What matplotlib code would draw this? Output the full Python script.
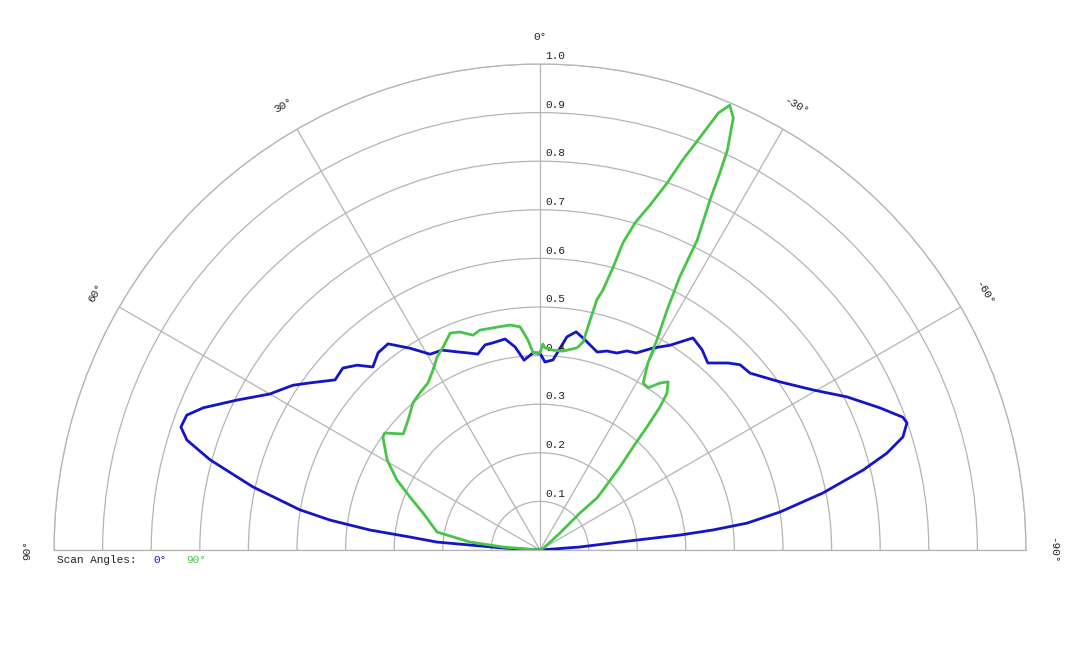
import numpy as np
import matplotlib
matplotlib.use("Agg")
import matplotlib.pyplot as plt

# scan at 0 deg (blue), angle in degrees, relative intensity
blue_deg = [90, 86.9, 85.6, 84.3, 83.3, 81.9, 80.5, 77.6, 74.7, 72.7, 71.1, 69.1,
            67.1, 63.7, 60.0, 58.4, 56.3, 54.0, 50.3, 47.3, 44.7, 42.4, 39.4, 36.4,
            32.8, 29.3, 26.1, 22.7, 19.6, 17.6, 15.0, 13.1, 9.4, 7.0, 4.8, 2.0, 0.0,
            -1.5, -3.9, -7.2, -9.4, -11.5, -16.1, -18.6, -21.3, -23.6, -26.0, -29.2,
            -32.4, -35.8, -39.0, -41.9, -45.2, -47.2, -49.9, -55.0, -59.6, -63.5,
            -67.3, -69.9, -70.9, -72.7, -74.4, -76.1, -78.6, -81.0, -82.6, -83.4,
            -83.9, -84.3, -85.7, -90]
blue_r = [0, 0.076, 0.213, 0.269, 0.352, 0.436, 0.501, 0.605, 0.704, 0.761, 0.781, 0.778,
          0.752, 0.696, 0.642, 0.628, 0.611, 0.585, 0.548, 0.552, 0.535, 0.510, 0.525, 0.527,
          0.494, 0.462, 0.458, 0.442, 0.430, 0.423, 0.437, 0.437, 0.440, 0.421, 0.392, 0.406, 0.405,
          0.387, 0.392, 0.442, 0.455, 0.445, 0.424, 0.432, 0.435, 0.447, 0.451, 0.476,
          0.499, 0.538, 0.530, 0.517, 0.546, 0.561, 0.565, 0.603, 0.651, 0.706,
          0.758, 0.795, 0.799, 0.782, 0.741, 0.685, 0.594, 0.500, 0.430, 0.358,
          0.290, 0.166, 0.082, 0]

# scan at 90 deg (green)
green_deg = [90, 85.4, 83.5, 80.1, 72.5, 67.8, 63.9, 59.5, 54.3, 53.0, 49.7, 45.4,
             40.8, 37.4, 33.8, 30.7, 28.1, 25.5, 22.5, 20.2, 17.3, 15.3, 10.9, 7.6,
             5.1, 3.3, 2.0, 0.0, -0.8, -1.4, -3.7, -6.6, -10.4, -11.7, -12.3, -12.8,
             -13.6, -14.5, -15.1, -16.2, -17.7, -19.1, -20.1, -21.2, -22.2, -23.1,
             -24.1, -25.1, -25.5, -25.9, -26.9, -27.1, -27.9, -29.1, -30.0, -31.7,
             -33.7, -35.7, -37.3, -39.0, -40.0, -41.0, -42.1, -43.9, -46.4, -47.6,
             -47.2, -49.6, -60, -90]
green_r = [0, 0.076, 0.145, 0.215, 0.252, 0.289, 0.328, 0.365, 0.398, 0.400, 0.369, 0.381,
           0.400, 0.407, 0.414, 0.431, 0.450, 0.463, 0.483, 0.478, 0.463, 0.469, 0.467, 0.467,
           0.461, 0.433, 0.406, 0.405, 0.424, 0.416, 0.412, 0.412, 0.423, 0.437, 0.484, 0.528,
           0.550, 0.601, 0.654, 0.701, 0.745, 0.799, 0.855, 0.911, 0.971, 0.995,
           0.974, 0.909, 0.860, 0.801, 0.715, 0.631, 0.559, 0.495, 0.444, 0.404,
           0.401, 0.423, 0.435, 0.415, 0.384, 0.335, 0.286, 0.237, 0.179, 0.159,
           0.112, 0.054, 0.01, 0]

ring_values = [0.1, 0.2, 0.3, 0.4, 0.5, 0.6, 0.7, 0.8, 0.9, 1.0]
angle_ticks = [90, 60, 30, 0, -30, -60, -90]

BLUE = "#1414c8"
GREEN = "#48c448"
GRID = "#b4b4b4"
FONT = "Liberation Mono"

W, H = 1080, 648
cx, cy, R = 540, 550, 486   # centre and outer radius in pixels

fig = plt.figure(figsize=(W / 100, H / 100), dpi=100)
# the half-disc sits in a square box whose lower quarter is empty
side = 2 * R
bottom = (H - cy) - side / 4
ax = fig.add_axes([(cx - R) / W, bottom / H, side / W, side / H], projection="polar")
ax.set_theta_zero_location("N")
ax.set_theta_direction(1)
ax.set_thetamin(-90)
ax.set_thetamax(90)
ax.set_ylim(0, 1.0)

ax.set_xticks(np.radians(angle_ticks))
ax.set_xticklabels([])
ax.set_yticks(ring_values)
ax.set_yticklabels([])
ax.grid(True, color=GRID, linewidth=0.9)
for sp in ax.spines.values():
    sp.set_color(GRID)
    sp.set_linewidth(0.9)

ax.plot(np.radians(blue_deg), blue_r, color=BLUE, linewidth=2.0,
        solid_joinstyle="round", zorder=3)
ax.plot(np.radians(green_deg), green_r, color=GREEN, linewidth=2.0,
        solid_joinstyle="round", zorder=4)

# radial labels
for v in ring_values:
    ax.annotate(f"{v:.1f}", xy=(0, v), xytext=(4, 2), textcoords="offset points",
                ha="left", va="bottom", fontsize=8, family=FONT, color="#222222")

# angle labels
for a in angle_ticks:
    ax.text(np.radians(a), 1.056, f"{a}°", rotation=a, rotation_mode="anchor",
            ha="center", va="center", fontsize=8, family=FONT, color="#222222",
            clip_on=False)

fig.text(57 / W, 1 - 560 / H, "Scan Angles:", fontsize=8, family=FONT,
         color="#222222", va="center", ha="left")
fig.text(153 / W, 1 - 560 / H, "0°", fontsize=8, family=FONT,
         color=BLUE, va="center", ha="left")
fig.text(186 / W, 1 - 560 / H, "90°", fontsize=8, family=FONT,
         color=GREEN, va="center", ha="left")

fig.savefig("out.png", dpi=100)
